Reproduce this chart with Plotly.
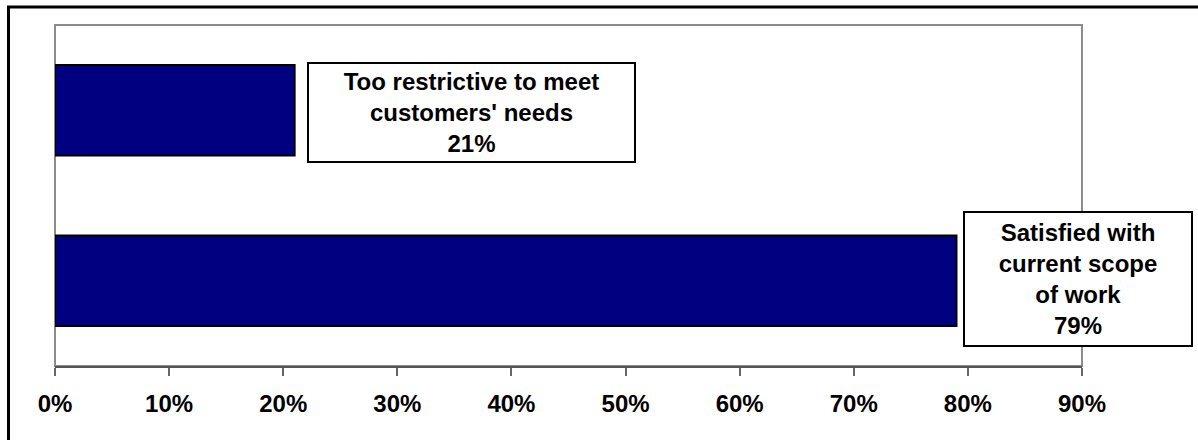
import plotly.graph_objects as go

# Data
categories = ["Satisfied with<br>current scope<br>of work", "Too restrictive to meet<br>customers' needs"]
values = [0.79, 0.21]
tick_values = [0.0, 0.1, 0.2, 0.3, 0.4, 0.5, 0.6, 0.7, 0.8, 0.9]
tick_labels = ["0%", "10%", "20%", "30%", "40%", "50%", "60%", "70%", "80%", "90%"]

W, H = 1198, 440
ML, MR, MT, MB = 55, 116, 25, 74
pw = W - ML - MR
ph = H - MT - MB

FONT = "Liberation Sans, Arial, sans-serif"

fig = go.Figure()
fig.add_trace(go.Bar(
    x=values,
    y=[0, 1],
    orientation="h",
    width=0.53,
    marker=dict(color="#000080", line=dict(color="#000000", width=2)),
    hoverinfo="skip",
))

# label boxes (positions in data units, text from data)
label_pos = [
    dict(x=0.8965, y=0.01, w=226, h=132),
    dict(x=0.3654, y=0.987, w=325, h=97),
]
for cat, v, p in zip(categories, values, label_pos):
    fig.add_annotation(
        x=p["x"], y=p["y"], xref="x", yref="y",
        text=f"{cat}<br>{round(v*100)}%",
        showarrow=False,
        font=dict(family=FONT, size=24, color="#000000", weight="bold"),
        bgcolor="#ffffff",
        bordercolor="#000000",
        borderwidth=2,
        borderpad=0,
        width=p["w"], height=p["h"],
        align="center", valign="middle",
    )

def px_to_paper_x(px):
    return (px - ML) / pw

def px_to_paper_y(py):
    return (H - MB - py) / ph

shapes = [
    # plot area border
    dict(type="rect", xref="paper", yref="paper", x0=0, x1=1, y0=0, y1=1,
         line=dict(color="#8c8c8c", width=2), layer="below"),
    # outer chart border (extends past right/bottom edges)
    dict(type="rect", xref="paper", yref="paper",
         x0=px_to_paper_x(8.5), x1=px_to_paper_x(1215),
         y0=px_to_paper_y(455), y1=px_to_paper_y(7),
         line=dict(color="#000000", width=3), layer="below"),
]

fig.update_layout(
    width=W, height=H,
    margin=dict(l=ML, r=MR, t=MT, b=MB, pad=0),
    paper_bgcolor="#ffffff",
    plot_bgcolor="#ffffff",
    showlegend=False,
    shapes=shapes,
    xaxis=dict(
        range=[0, 0.9],
        tickvals=tick_values,
        ticktext=tick_labels,
        ticks="outside",
        ticklen=8,
        tickwidth=2,
        tickcolor="#666666",
        ticklabelstandoff=7,
        showline=True,
        linecolor="#555555",
        linewidth=2,
        showgrid=False,
        zeroline=False,
        tickfont=dict(family=FONT, size=24, color="#000000", weight="bold"),
        fixedrange=True,
    ),
    yaxis=dict(
        range=[-0.5, 1.5],
        showticklabels=False,
        showgrid=False,
        zeroline=False,
        showline=False,
        ticks="",
        fixedrange=True,
    ),
)

fig.write_html("out.html", config=dict(displayModeBar=False))
